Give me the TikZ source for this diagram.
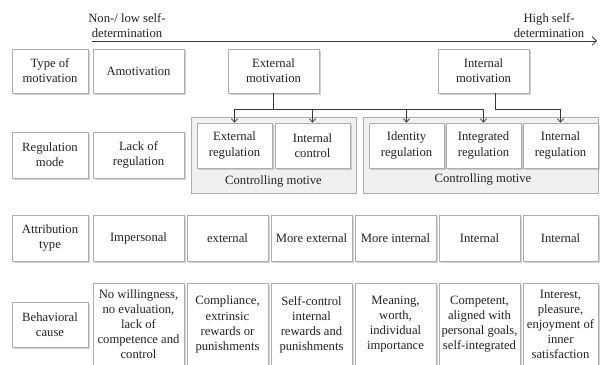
\documentclass[tikz,border=0pt]{standalone}
\usepackage{fontspec}
\setmainfont{Liberation Serif}
\usetikzlibrary{arrows.meta, positioning, shadows}
\definecolor{cellline}{RGB}{175, 175, 175}
\definecolor{groupfill}{RGB}{240, 240, 240}
\definecolor{linkgray}{RGB}{55, 55, 55}
\definecolor{textgray}{RGB}{35, 35, 35}

\tikzset{
  cell/.style={draw=cellline, fill=white, align=center, inner sep=1pt, text=textgray,
    font=\fontsize{9}{10.7}\selectfont,
    drop shadow={shadow xshift=1.1pt, shadow yshift=-1.3pt, opacity=0.35}},
  group/.style={draw=cellline, fill=groupfill, minimum height=1.9cm},
  grouplabel/.style={text=textgray, font=\fontsize{9}{10.7}\selectfont},
  link/.style={draw=linkgray, line width=0.5pt},
  tip/.style={-{Straight Barb[length=2.5pt, width=4.5pt]}}
}

\begin{document}
\begin{tikzpicture}[x=0.025cm, y=-0.025cm]
  \useasboundingbox (0,0) rectangle (600,365);
  \fill[white] (0,0) rectangle (600,365);

  % self-determination axis
  \coordinate (lowend) at (92,41);
  \coordinate (highend) at (597,41);
  \draw[linkgray, line width=0.6pt, -{Straight Barb[length=3pt, width=6pt]}] (lowend) -- (highend);
  \node[grouplabel, align=center] (lowlbl) at (127,26) {Non-/ low self-\\determination};
  \node[grouplabel, align=center] (highlbl) at (549,26) {High self-\\determination};

  % type of motivation
  \node[cell, minimum width=1.9cm, minimum height=1.1cm] (typemot) at (50,71) {Type of\\motivation};
  \node[cell, minimum width=2.275cm, minimum height=1.1cm] (amot) at (138.5,71) {Amotivation};
  \node[cell, minimum width=2.275cm, minimum height=1.1cm] (extmot) at (273.5,71) {External\\motivation};
  \node[cell, minimum width=2.275cm, minimum height=1.1cm] (intmot) at (483.5,71) {Internal\\motivation};

  % regulation mode
  \node[group, minimum width=4.125cm] (ctrlA) at (273.5,155) {};
  \node[group, minimum width=5.875cm] (ctrlB) at (480.5,155) {};
  \node[grouplabel] (ctrlAlbl) at (273.5,181) {Controlling motive};
  \node[grouplabel] (ctrlBlbl) at (483,179) {Controlling motive};

  \node[cell, minimum width=1.9cm, minimum height=1.15cm] (regmode) at (50,155) {Regulation\\mode};
  \node[cell, minimum width=2.275cm, minimum height=1.15cm] (lackreg) at (138.5,155) {Lack of\\regulation};
  \node[cell, minimum width=1.875cm, minimum height=1.125cm] (extreg) at (234.5,145.5) {External\\regulation};
  \node[cell, minimum width=1.875cm, minimum height=1.125cm] (intctl) at (312.5,145.5) {Internal\\control};
  \node[cell, minimum width=1.875cm, minimum height=1.125cm] (ident) at (406.5,145.5) {Identity\\regulation};
  \node[cell, minimum width=1.875cm, minimum height=1.125cm] (integ) at (483.5,145.5) {Integrated\\regulation};
  \node[cell, minimum width=1.875cm, minimum height=1.125cm] (intreg) at (560.5,145.5) {Internal\\regulation};

  \coordinate (bus) at (0,109);
  \draw[link] (extmot.south) -- (extmot.south |- bus);
  \draw[link] (extreg.north |- bus) -- (integ.north |- bus);
  \foreach \target in {extreg, intctl, ident, integ}
    \draw[link, tip] (\target.north |- bus) -- (\target.north);
  \draw[link, tip] ([xshift=0.3cm]intmot.south) |- (intreg.north |- bus) -- (intreg.north);

  % attribution type
  \node[cell, minimum width=1.9cm, minimum height=1.15cm] (attrtype) at (50,238) {Attribution\\type};
  \node[cell, minimum width=2.275cm, minimum height=1.15cm] (impers) at (138.5,238) {Impersonal};
  \node[cell, minimum width=2.025cm, minimum height=1.15cm] (attrA) at (227.5,238) {external};
  \node[cell, minimum width=2.025cm, minimum height=1.15cm] (attrB) at (311.5,238) {More external};
  \node[cell, minimum width=2.025cm, minimum height=1.15cm] (attrC) at (395.5,238) {More internal};
  \node[cell, minimum width=2.025cm, minimum height=1.15cm] (attrD) at (479.5,238) {Internal};
  \node[cell, minimum width=1.875cm, minimum height=1.15cm] (attrE) at (560.5,238) {Internal};

  % behavioral cause
  \node[cell, minimum width=1.9cm, minimum height=1.125cm] (behcause) at (50,324.5) {Behavioral\\cause};
  \node[cell, minimum width=2.275cm, minimum height=2.075cm] (causeA) at (138.5,324.5) {No willingness,\\no evaluation,\\lack of\\competence and\\control};
  \node[cell, minimum width=2.025cm, minimum height=2.075cm] (causeB) at (227.5,324.5) {Compliance,\\extrinsic\\rewards or\\punishments};
  \node[cell, minimum width=2.025cm, minimum height=2.075cm] (causeC) at (311.5,324.5) {Self-control\\internal\\rewards and\\punishments};
  \node[cell, minimum width=2.025cm, minimum height=2.075cm] (causeD) at (395.5,324.5) {Meaning,\\worth,\\individual\\importance};
  \node[cell, minimum width=2.025cm, minimum height=2.075cm] (causeE) at (479.5,324.5) {Competent,\\aligned with\\personal goals,\\self-integrated};
  \node[cell, minimum width=1.875cm, minimum height=2.075cm] (causeF) at (560.5,324.5) {Interest,\\pleasure,\\enjoyment of\\inner\\satisfaction};
\end{tikzpicture}
\end{document}
